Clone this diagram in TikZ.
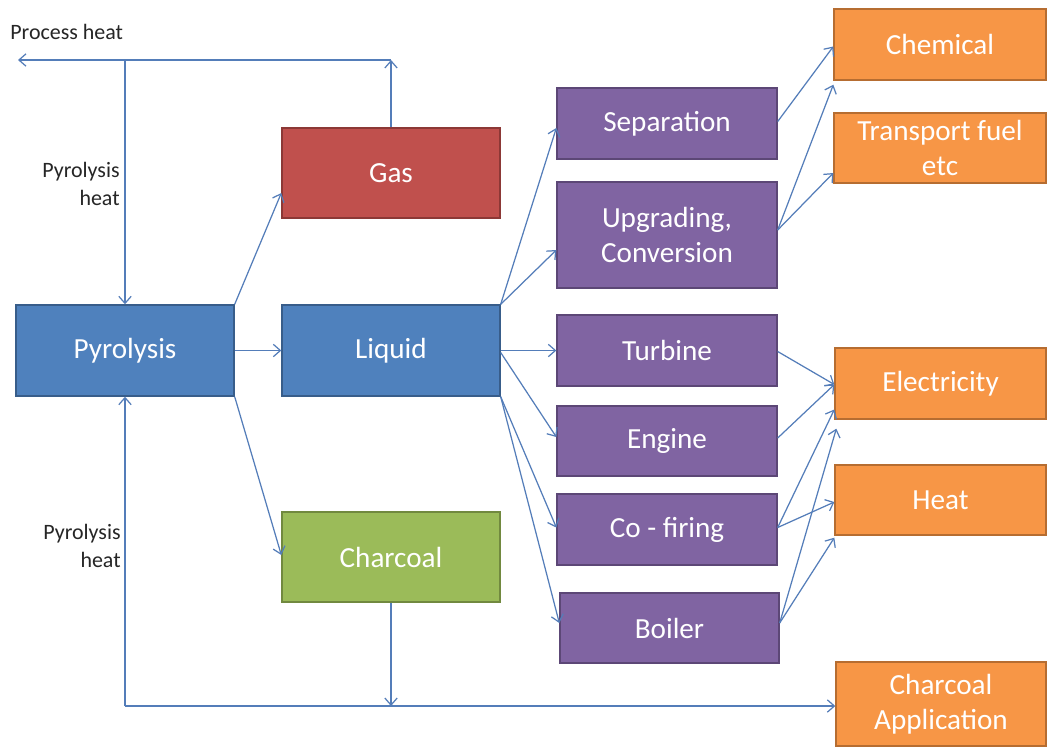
\documentclass[tikz,border=0pt]{standalone}
\usepackage{fontspec}
\setmainfont{Carlito}
\usetikzlibrary{arrows.meta,calc}
\definecolor{cblue}{RGB}{79,129,189}
\definecolor{cbluedk}{RGB}{56,93,138}
\definecolor{cred}{RGB}{192,80,77}
\definecolor{creddk}{RGB}{140,56,54}
\definecolor{cgreen}{RGB}{155,187,89}
\definecolor{cgreendk}{RGB}{113,137,63}
\definecolor{cpurple}{RGB}{128,100,162}
\definecolor{cpurpledk}{RGB}{92,71,118}
\definecolor{corange}{RGB}{247,150,70}
\definecolor{corangedk}{RGB}{182,109,49}
\definecolor{cline}{RGB}{84,125,185}
\begin{document}
\begin{tikzpicture}[x=0.02cm,y=-0.02cm,
  box/.style={rectangle, draw, line width=0.8pt, text=white, align=center,
    inner sep=0pt, font=\fontsize{16.6}{20}\selectfont},
  bluebox/.style={box, fill=cblue, draw=cbluedk},
  redbox/.style={box, fill=cred, draw=creddk},
  greenbox/.style={box, fill=cgreen, draw=cgreendk},
  purplebox/.style={box, fill=cpurple, draw=cpurpledk},
  orangebox/.style={box, fill=corange, draw=corangedk},
  conn/.style={draw=cline, line width=0.7pt, -{Straight Barb[length=4pt,width=7pt]}},
  lbl/.style={font=\fontsize{12.5}{15.5}\selectfont, text=black!85, inner sep=0pt}
]
\fill[white] (0,0) rectangle (1047,748);
\useasboundingbox (0,0) rectangle (1047,748);

% boxes
\node[bluebox, minimum width=4.36cm, minimum height=1.82cm] (pyro) at (125,350.5) {Pyrolysis};
\node[redbox, minimum width=4.36cm, minimum height=1.80cm] (gas) at (391,173) {Gas};
\node[bluebox, minimum width=4.36cm, minimum height=1.82cm] (liquid) at (391,350.5) {Liquid};
\node[greenbox, minimum width=4.36cm, minimum height=1.80cm] (charcoal) at (391,557) {Charcoal};

\node[purplebox, minimum width=4.40cm, minimum height=1.42cm] (sep) at (667,123.5) {Separation};
\node[purplebox, minimum width=4.40cm, minimum height=2.12cm] (upg) at (667,235) {Upgrading,\\Conversion};
\node[purplebox, minimum width=4.40cm, minimum height=1.42cm] (turb) at (667,350.5) {Turbine};
\node[purplebox, minimum width=4.40cm, minimum height=1.40cm] (eng) at (667,441) {Engine};
\node[purplebox, minimum width=4.40cm, minimum height=1.42cm] (cofire) at (667,529.5) {Co - firing};
\node[purplebox, minimum width=4.38cm, minimum height=1.40cm] (boiler) at (669.5,628) {Boiler};

\node[orangebox, minimum width=4.24cm, minimum height=1.42cm] (chem) at (940,44.5) {Chemical};
\node[orangebox, minimum width=4.24cm, minimum height=1.40cm] (trans) at (940,148) {Transport fuel\\etc};
\node[orangebox, minimum width=4.22cm, minimum height=1.42cm] (elec) at (940.5,383.5) {Electricity};
\node[orangebox, minimum width=4.22cm, minimum height=1.40cm] (heat) at (940.5,500) {Heat};
\node[orangebox, minimum width=4.20cm, minimum height=1.68cm] (capp) at (941,704) {Charcoal\\Application};

% labels
\node[lbl, anchor=west] (ph) at (10,32) {Process heat};
\node[lbl, anchor=east, align=right] (phu) at (120,184) {Pyrolysis\\heat};
\node[lbl, anchor=east, align=right] (phl) at (121,546) {Pyrolysis\\heat};

% top heat loop
\coordinate (top) at (391,60);
\coordinate (phend) at (18,60);
\coordinate (tl) at (125,60);
\draw[conn] (gas.north) -- (top);
\draw[conn] (top) -- (phend);
\draw[conn] (tl) -- (pyro.north);

% bottom loop
\coordinate (bl) at (125,706);
\coordinate (bm) at (391,706);
\draw[conn] (charcoal.south) -- (bm);
\draw[conn] (bl) -- (bl -| capp.west);
\draw[conn] (bl) -- (pyro.south);

% pyrolysis outputs
\draw[conn] (pyro.north east) -- ($(gas.west)+(0,20)$);
\draw[conn] (pyro.east) -- (liquid.west);
\draw[conn] (pyro.south east) -- ($(charcoal.west)+(0,-2)$);

% liquid outputs
\draw[conn] (liquid.north east) -- ($(sep.west)+(0,4.5)$);
\draw[conn] (liquid.north east) -- ($(upg.west)+(0,15)$);
\draw[conn] (liquid.east) -- (turb.west);
\draw[conn] ($(liquid.east)+(0,2)$) -- ($(eng.west)+(0,-4)$);
\draw[conn] (liquid.south east) -- ($(cofire.west)+(0,-2)$);
\draw[conn] (liquid.south east) -- ($(boiler.west)+(0,-5)$);

% to products
\draw[conn] ($(sep.east)+(0,-2)$) -- ($(chem.west)+(0,2)$);
\draw[conn] ($(upg.east)+(0,-5)$) -- ($(chem.south west)+(0,4)$);
\draw[conn] ($(upg.east)+(0,-5)$) -- ($(trans.west)+(0,25)$);
\draw[conn] ($(turb.east)+(0,1)$) -- ($(elec.west)+(0,1)$);
\draw[conn] ($(eng.east)+(0,-3)$) -- ($(elec.west)+(0,1)$);
\draw[conn] ($(cofire.east)+(0,-2)$) -- ($(elec.west)+(0,26)$);
\draw[conn] ($(cofire.east)+(0,-2)$) -- ($(heat.west)+(0,2)$);
\draw[conn] ($(boiler.east)+(0,-5)$) -- ($(elec.south west)+(2,9)$);
\draw[conn] ($(boiler.east)+(0,-5)$) -- ($(heat.south west)+(0,2)$);
\end{tikzpicture}
\end{document}
